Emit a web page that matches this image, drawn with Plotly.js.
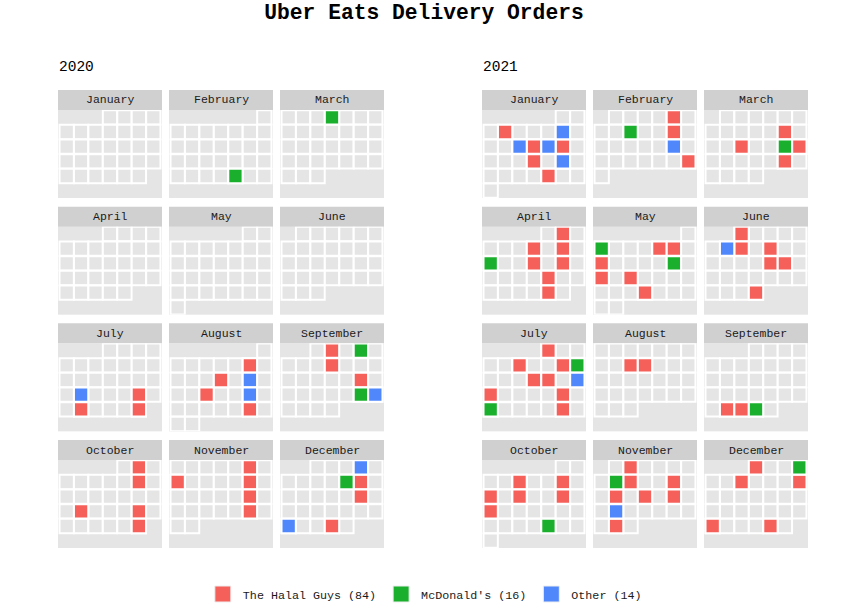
<!DOCTYPE html>
<html>
<head>
<meta charset="utf-8">
<script src="https://cdn.plot.ly/plotly-3.0.1.min.js"></script>
<style>html,body{margin:0;padding:0;background:#fff;}#chart{width:848px;height:613px;}</style>
</head>
<body>
<div id="chart"></div>
<script>
// ---- data ----
const years = [2020, 2021];
const monthNames = ['January','February','March','April','May','June','July','August','September','October','November','December'];
const categories = ["The Halal Guys", "McDonald's", "Other"];
const categoryColors = ['#F5605B', '#1AB02D', '#5088FC'];

const halalGuys = [
  '2020-07-24','2020-07-27','2020-07-31',
  '2020-08-07','2020-08-12','2020-08-18','2020-08-28',
  '2020-09-02','2020-09-09','2020-09-18',
  '2020-10-02','2020-10-09','2020-10-19','2020-10-23','2020-10-30',
  '2020-11-06','2020-11-08','2020-11-13','2020-11-20','2020-11-27',
  '2020-12-11','2020-12-18','2020-12-30',
  '2021-01-04','2021-01-13','2021-01-15','2021-01-20','2021-01-28',
  '2021-02-05','2021-02-12','2021-02-27',
  '2021-03-12','2021-03-16','2021-03-20','2021-03-26',
  '2021-04-02','2021-04-07','2021-04-09','2021-04-14','2021-04-16','2021-04-22','2021-04-29',
  '2021-05-06','2021-05-07','2021-05-09','2021-05-16','2021-05-18','2021-05-26',
  '2021-06-01','2021-06-08','2021-06-10','2021-06-17','2021-06-18','2021-06-30',
  '2021-07-01','2021-07-06','2021-07-09','2021-07-14','2021-07-15','2021-07-18','2021-07-23','2021-07-30',
  '2021-08-10','2021-08-11',
  '2021-09-27','2021-09-28',
  '2021-10-05','2021-10-08','2021-10-10','2021-10-12','2021-10-15','2021-10-17',
  '2021-11-02','2021-11-09','2021-11-12','2021-11-15','2021-11-17','2021-11-19','2021-11-29',
  '2021-12-01','2021-12-07','2021-12-11','2021-12-26','2021-12-30'
];
const mcDonalds = [
  '2020-02-27','2020-03-04','2020-09-04','2020-09-25','2020-12-10',
  '2021-02-09','2021-03-19','2021-04-11','2021-05-02','2021-05-14',
  '2021-07-10','2021-07-25','2021-09-29','2021-10-28','2021-11-08','2021-12-04'
];
const other = [
  '2020-07-20','2020-08-14','2020-08-21','2020-09-26','2020-12-04','2020-12-27',
  '2021-01-08','2021-01-12','2021-01-14','2021-01-22','2021-02-19','2021-06-07',
  '2021-07-17','2021-11-22'
];
const seriesDates = [halalGuys, mcDonalds, other];
// day absent from the source calendar grid
const missingDays = ['2020-10-31'];

// ---- helpers ----
const FONT = '"Courier New", "Liberation Mono", monospace';
const W = 848, H = 613;
function parse(s){ const p = s.split('-').map(Number); return {y:p[0], m:p[1], d:p[2]}; }
function cell(y, m, d){
  const first = new Date(Date.UTC(y, m-1, 1)).getUTCDay();
  const idx = first + d - 1;
  return {col: idx % 7 + 1, row: Math.floor(idx / 7) + 1};
}
function daysIn(y, m){ return new Date(Date.UTC(y, m, 0)).getUTCDate(); }
function pad(n){ return (n < 10 ? '0' : '') + n; }

const traces = [];
const layout = {
  width: W, height: H,
  margin: {l:0, r:0, t:0, b:0},
  paper_bgcolor: '#ffffff',
  plot_bgcolor: '#e5e5e5',
  showlegend: true,
  title: {text: '<b>Uber Eats Delivery Orders</b>', x: 0.5, xanchor: 'center', xref: 'paper',
          y: 1 - 12/H, yanchor: 'middle', yref: 'container',
          font: {family: FONT, size: 21.3, color: '#000000'}},
  legend: {orientation: 'h', x: 0.501, xanchor: 'center', y: 1 - 594/H, yanchor: 'middle',
           font: {family: FONT, size: 11.7, color: '#1a1a1a'}, bgcolor: 'rgba(0,0,0,0)'},
  shapes: [], annotations: []
};
const markerSize = 14.3;

years.forEach((yr, yi) => {
  layout.annotations.push({text: String(yr), xref: 'paper', yref: 'paper',
    x: (yi === 0 ? 57 : 481) / W, y: 1 - 67/H, xanchor: 'left', yanchor: 'middle',
    showarrow: false, font: {family: FONT, size: 14.5, color: '#000000'}});
  for (let m = 1; m <= 12; m++) {
    const k = yi * 12 + (m - 1);
    const ax = k === 0 ? '' : String(k + 1);
    const c = (m - 1) % 3, r = Math.floor((m - 1) / 3);
    const left = (yi === 0 ? 58 : 482) + c * 111;
    const top = 110 + r * 116.67;
    const bottom = top + 88;
    layout['xaxis' + ax] = {domain: [left / W, (left + 104) / W], range: [0.4, 7.6],
      showgrid: false, zeroline: false, showticklabels: false, ticks: '', fixedrange: true,
      anchor: 'y' + ax};
    layout['yaxis' + ax] = {domain: [1 - bottom / H, 1 - top / H], range: [6.5, 0.5],
      showgrid: false, zeroline: false, showticklabels: false, ticks: '', fixedrange: true,
      anchor: 'x' + ax};
    // strip
    layout.shapes.push({type: 'rect', xref: 'paper', yref: 'paper', x0: left / W, x1: (left + 104) / W,
      y0: 1 - top / H, y1: 1 - (top - 20) / H, fillcolor: '#d0d0d0', line: {width: 0}, layer: 'below'});
    layout.annotations.push({text: monthNames[m - 1], xref: 'paper', yref: 'paper',
      x: (left + 52) / W, y: 1 - (top - 10) / H, xanchor: 'center', yanchor: 'middle',
      showarrow: false, font: {family: FONT, size: 11.5, color: '#1a1a1a'}});
    // background day cells
    const gx = [], gy = [];
    for (let d = 1; d <= daysIn(yr, m); d++) {
      const key = yr + '-' + pad(m) + '-' + pad(d);
      if (missingDays.includes(key)) continue;
      const p = cell(yr, m, d);
      gx.push(p.col); gy.push(p.row);
    }
    traces.push({type: 'scatter', mode: 'markers', x: gx, y: gy, xaxis: 'x' + ax, yaxis: 'y' + ax,
      marker: {symbol: 'square', size: markerSize, color: '#e5e5e5', line: {color: '#ffffff', width: 2}},
      showlegend: false, hoverinfo: 'skip'});
    // order cells
    seriesDates.forEach((arr, ci) => {
      const xs = [], ys = [];
      arr.forEach(s => {
        const p = parse(s);
        if (p.y === yr && p.m === m) { const q = cell(p.y, p.m, p.d); xs.push(q.col); ys.push(q.row); }
      });
      if (!xs.length) return;
      traces.push({type: 'scatter', mode: 'markers', x: xs, y: ys, xaxis: 'x' + ax, yaxis: 'y' + ax,
        legendgroup: 'g' + ci, showlegend: false,
        marker: {symbol: 'square', size: markerSize, color: categoryColors[ci], line: {color: '#ffffff', width: 2}},
        hoverinfo: 'skip'});
    });
  }
});

// legend entries (larger keys, no marks of their own)
seriesDates.forEach((arr, ci) => {
  traces.push({type: 'scatter', mode: 'markers', x: [null], y: [null],
    name: categories[ci] + ' (' + arr.length + ')', legendgroup: 'g' + ci, legendrank: ci + 1,
    showlegend: true,
    marker: {symbol: 'square', size: 18, color: categoryColors[ci], line: {color: '#eeeeee', width: 1}},
    hoverinfo: 'skip'});
});

Plotly.newPlot('chart', traces, layout, {displayModeBar: false, staticPlot: true});
</script>
</body>
</html>
